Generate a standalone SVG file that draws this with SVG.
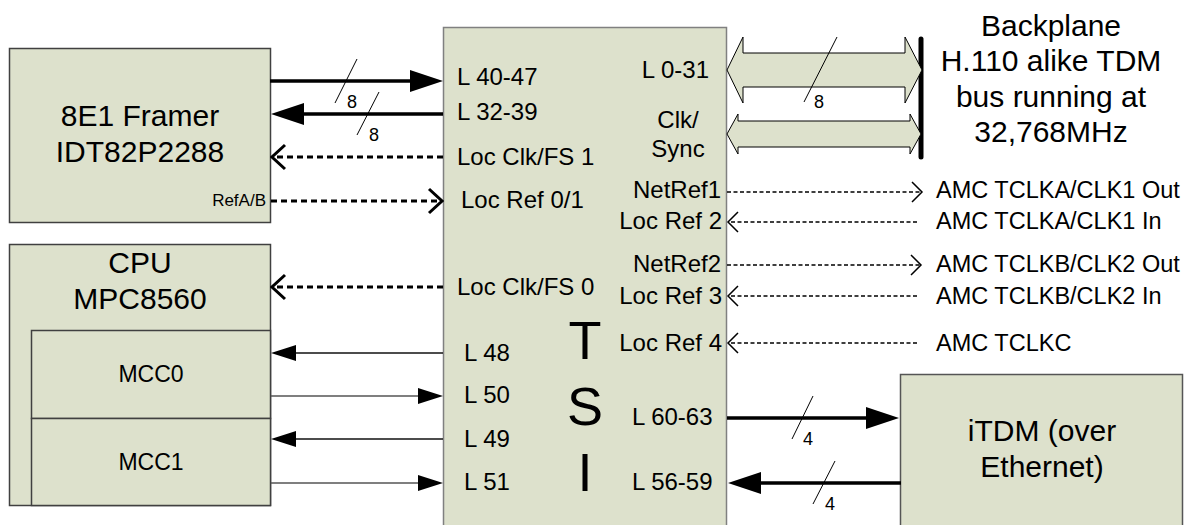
<svg xmlns="http://www.w3.org/2000/svg" width="1201" height="525" viewBox="0 0 1201 525">
<style>
text{font-family:"Liberation Sans",Arial,sans-serif;fill:#000}
.box{fill:#dde1cc;stroke:#404040;stroke-width:1.5}
.tsi{fill:#dde1cc;stroke:#808080;stroke-width:1.5}
.big{font-size:30px;text-anchor:middle}
.lbl{font-size:24px}
.end{text-anchor:end}
.mid{text-anchor:middle}
.amc{font-size:23.5px}
.num{font-size:18px}
.tsiL{font-size:54px;text-anchor:middle}
.thick{stroke:#000;stroke-width:3.5;fill:none}
.thin{stroke:#111;stroke-width:1.5;fill:none}
.thinG{stroke:#555;stroke-width:1.5;fill:none}
.dashT{stroke:#000;stroke-width:3;stroke-dasharray:6 4;fill:none}
.dashS{stroke:#000;stroke-width:1.5;stroke-dasharray:4 2.5;fill:none}
.slash{stroke:#000;stroke-width:1;fill:none}
.bus{fill:#dde1cc;stroke:#000;stroke-width:1}
</style>
<defs>
<marker id="headBig" markerUnits="userSpaceOnUse" viewBox="0 0 33 22" markerWidth="33" markerHeight="22" refX="0" refY="11" orient="auto">
<path d="M0,0 L33,11 L0,22 z" fill="#000"/>
</marker>
<marker id="headSmall" markerUnits="userSpaceOnUse" viewBox="0 0 25 16" markerWidth="25" markerHeight="16" refX="0" refY="8" orient="auto">
<path d="M0,0 L25,8 L0,16 z" fill="#000"/>
</marker>
<marker id="chevBig" markerUnits="userSpaceOnUse" viewBox="-2 -2 17 28" markerWidth="17" markerHeight="28" refX="13" refY="12" orient="auto">
<path d="M0,0 L13,12 L0,24" fill="none" stroke="#000" stroke-width="3"/>
</marker>
<marker id="chevSmall" markerUnits="userSpaceOnUse" viewBox="-2 -2 14 24" markerWidth="14" markerHeight="24" refX="10" refY="10" orient="auto">
<path d="M0,0 L10,10 L0,20" fill="none" stroke="#000" stroke-width="1.5"/>
</marker>
</defs>

<g id="tsi">
<rect class="tsi" x="443.5" y="27.5" width="283" height="510"/>
<text class="lbl" x="457" y="85">L 40-47</text>
<text class="lbl" x="457" y="120">L 32-39</text>
<text class="lbl" x="457" y="165">Loc Clk/FS 1</text>
<text class="lbl" x="461" y="208">Loc Ref 0/1</text>
<text class="lbl" x="457" y="295">Loc Clk/FS 0</text>
<text class="lbl" x="464" y="361">L 48</text>
<text class="lbl" x="464" y="403">L 50</text>
<text class="lbl" x="464" y="447">L 49</text>
<text class="lbl" x="464" y="490">L 51</text>
<text class="lbl end" x="709" y="78">L 0-31</text>
<text class="lbl mid" x="678" y="128">Clk/</text>
<text class="lbl mid" x="678" y="157">Sync</text>
<text class="lbl end" x="721" y="198">NetRef1</text>
<text class="lbl end" x="722" y="229">Loc Ref 2</text>
<text class="lbl end" x="721" y="272">NetRef2</text>
<text class="lbl end" x="722" y="304">Loc Ref 3</text>
<text class="lbl end" x="722" y="351">Loc Ref 4</text>
<text class="lbl" x="632" y="425">L 60-63</text>
<text class="lbl" x="632" y="490">L 56-59</text>
<text class="tsiL" x="585" y="359">T</text>
<text class="tsiL" x="585" y="425">S</text>
<text class="tsiL" x="585" y="491">I</text>
</g>

<g id="framer">
<rect class="box" x="9.5" y="48.5" width="261" height="174"/>
<text class="big" x="140" y="126">8E1 Framer</text>
<text class="big" x="140" y="162">IDT82P2288</text>
<text x="266" y="206" font-size="17" text-anchor="end">RefA/B</text>
</g>

<g id="cpu">
<rect class="box" x="9.5" y="244.5" width="261" height="261"/>
<text class="big" x="140" y="273">CPU</text>
<text class="big" x="140" y="309">MPC8560</text>
</g>

<g id="mcc0">
<rect class="box" x="31.5" y="330.5" width="239" height="88"/>
<text x="151" y="382" font-size="23" text-anchor="middle">MCC0</text>
</g>

<g id="mcc1">
<rect class="box" x="31.5" y="418.5" width="239" height="87"/>
<text x="151" y="470" font-size="23" text-anchor="middle">MCC1</text>
</g>

<g id="itdm">
<rect class="box" x="900.5" y="374.5" width="282" height="160" style="stroke:#555"/>
<text class="big" x="1042" y="441">iTDM (over</text>
<text class="big" x="1042" y="477">Ethernet)</text>
</g>

<g id="backplane">
<line x1="921" y1="39" x2="921" y2="157" stroke="#000" stroke-width="5" stroke-linecap="round"/>
<text class="big" x="1051" y="36">Backplane</text>
<text class="big" x="1051" y="71">H.110 alike TDM</text>
<text class="big" x="1051" y="107">bus running at</text>
<text class="big" x="1051" y="142">32,768MHz</text>
</g>

<g id="amc-labels">
<text class="amc" x="936" y="198">AMC TCLKA/CLK1 Out</text>
<text class="amc" x="936" y="229">AMC TCLKA/CLK1 In</text>
<text class="amc" x="936" y="272">AMC TCLKB/CLK2 Out</text>
<text class="amc" x="936" y="304">AMC TCLKB/CLK2 In</text>
<text class="amc" x="936" y="351">AMC TCLKC</text>
</g>

<g id="connectors">
<line class="thick" x1="270" y1="81" x2="410" y2="81" marker-end="url(#headBig)"/>
<line class="thick" x1="443" y1="114" x2="304" y2="114" marker-end="url(#headBig)"/>
<line class="slash" x1="357" y1="59" x2="335" y2="103"/>
<text class="num" x="347" y="108">8</text>
<line class="slash" x1="379" y1="92" x2="357" y2="135"/>
<text class="num" x="369" y="141">8</text>
<line class="dashT" x1="443" y1="157" x2="272" y2="157" marker-end="url(#chevBig)"/>
<line class="dashT" x1="271" y1="201" x2="442" y2="201" marker-end="url(#chevBig)"/>
<line class="dashT" x1="443" y1="287" x2="272" y2="287" marker-end="url(#chevBig)"/>
<line class="thin" x1="443" y1="353" x2="296" y2="353" marker-end="url(#headSmall)"/>
<line class="thinG" x1="271" y1="396" x2="418" y2="396" marker-end="url(#headSmall)"/>
<line class="thin" x1="443" y1="439" x2="296" y2="439" marker-end="url(#headSmall)"/>
<line class="thinG" x1="271" y1="483" x2="418" y2="483" marker-end="url(#headSmall)"/>
<polygon class="bus" points="727,70 743,37 743,53 905,53 905,37 922,70 905,103 905,87 743,87 743,103"/>
<polygon class="bus" points="727,134 738,114 738,121 910,121 910,114 921,134 910,154 910,147 738,147 738,154"/>
<line class="slash" x1="837" y1="37" x2="804" y2="102"/>
<text class="num" x="814" y="108">8</text>
<line class="dashS" x1="727" y1="192" x2="922" y2="192" marker-end="url(#chevSmall)"/>
<line class="dashS" x1="917" y1="222" x2="728" y2="222" marker-end="url(#chevSmall)"/>
<line class="dashS" x1="727" y1="265" x2="921" y2="265" marker-end="url(#chevSmall)"/>
<line class="dashS" x1="917" y1="296" x2="728" y2="296" marker-end="url(#chevSmall)"/>
<line class="dashS" x1="917" y1="343" x2="728" y2="343" marker-end="url(#chevSmall)"/>
<line class="thick" x1="727" y1="418" x2="866" y2="418" marker-end="url(#headBig)"/>
<line class="thick" x1="901" y1="483" x2="761" y2="483" marker-end="url(#headBig)"/>
<line class="slash" x1="813" y1="396" x2="792" y2="439"/>
<text class="num" x="803" y="445">4</text>
<line class="slash" x1="835" y1="461" x2="813" y2="504"/>
<text class="num" x="825" y="510">4</text>
</g>
</svg>
